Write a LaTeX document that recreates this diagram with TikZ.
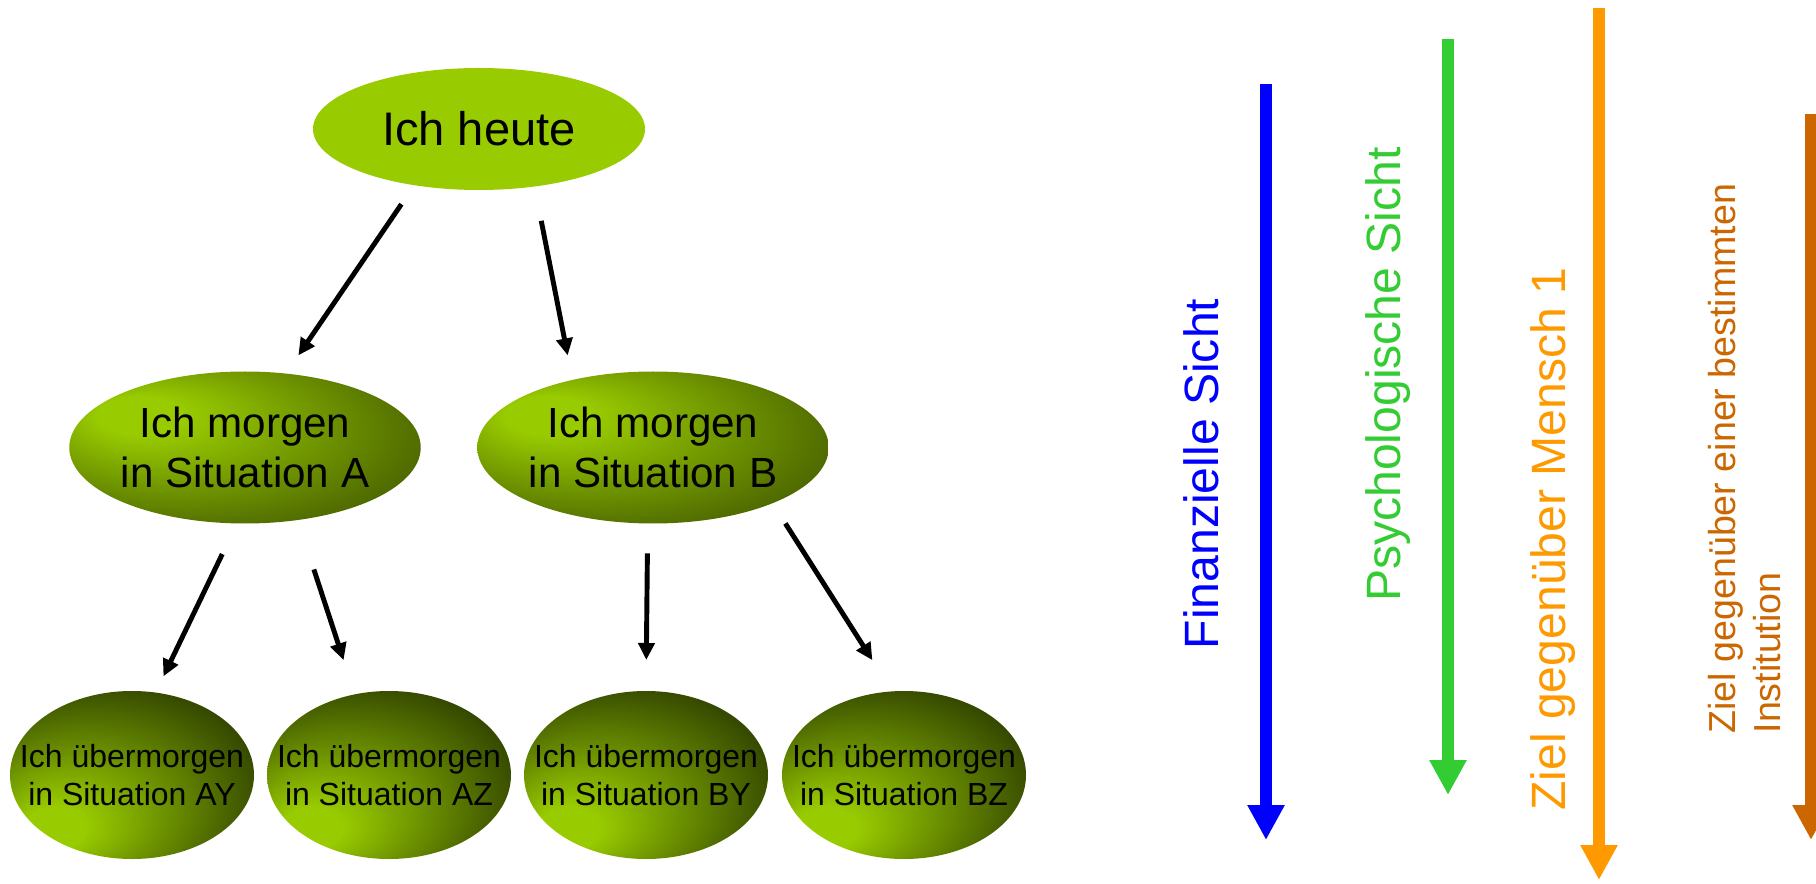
\documentclass[tikz,border=0pt]{standalone}
\usepackage{fontspec}
\setmainfont{Liberation Sans}
\usetikzlibrary{shapes.geometric,arrows.meta}

\definecolor{lightgreen}{HTML}{99CC00}
\definecolor{morgendark}{HTML}{4A6300}
\definecolor{uebardark}{HTML}{243200}
\definecolor{finblue}{HTML}{0000FF}
\definecolor{psygreen}{HTML}{33CC33}
\definecolor{zielorange}{HTML}{FF9900}
\definecolor{instbrown}{HTML}{CC6600}

\pgfdeclareradialshading{morgenshading}{\pgfpoint{-17bp}{12bp}}{color(0bp)=(lightgreen); color(6bp)=(lightgreen); color(34bp)=(morgendark); color(50bp)=(morgendark)}
\pgfdeclareradialshading{uebershading}{\pgfpoint{-18bp}{-18bp}}{color(0bp)=(lightgreen); color(6bp)=(lightgreen); color(38bp)=(uebardark); color(50bp)=(uebardark)}

\tikzset{
  blob/.style={ellipse, inner sep=0pt, outer sep=0pt},
  heute/.style={blob, fill=lightgreen, minimum width=3.32cm, minimum height=1.22cm,
    font=\fontsize{13.4}{16}\selectfont},
  morgen/.style={blob, shading=morgenshading, minimum width=3.48cm, minimum height=1.52cm,
    align=center, font=\fontsize{12}{14.4}\selectfont},
  uebermorgen/.style={blob, shading=uebershading, minimum width=2.44cm, minimum height=1.68cm},
  uebertext/.style={align=center, inner sep=0pt, font=\fontsize{9.1}{10.9}\selectfont},
  pfeil/.style={line width=1.4pt, -{Triangle[length=0.17cm,width=0.16cm]}},
  sicht/.style={line width=0.12cm, -{Triangle[length=0.35cm,width=0.35cm]}},
  sichttext/.style={rotate=90, inner sep=0pt, font=\fontsize{13.7}{16}\selectfont},
}

\begin{document}
\begin{tikzpicture}
  \useasboundingbox (0,0) rectangle (18.16,8.83);

  \node[heute] (heute) at (4.79,7.54) {Ich heute};
  \node[morgen] (A) at (2.45,4.355) {Ich morgen\\in Situation A};
  \node[morgen] (B) at (6.53,4.355) {Ich morgen\\in Situation B};
  \node[uebermorgen, label={[uebertext]center:Ich übermorgen\\in Situation AY}] (AY) at (1.32,1.08) {};
  \node[uebermorgen, label={[uebertext]center:Ich übermorgen\\in Situation AZ}] (AZ) at (3.89,1.08) {};
  \node[uebermorgen, label={[uebertext]center:Ich übermorgen\\in Situation BY}] (BY) at (6.46,1.08) {};
  \node[uebermorgen, label={[uebertext]center:Ich übermorgen\\in Situation BZ}] (BZ) at (9.04,1.08) {};

  \begin{scope}[pfeil]
    \draw[shorten <=2.3mm, shorten >=2.2mm] (heute.221) -- (A.61);
    \draw[shorten <=3.5mm, shorten >=2.5mm] (heute.314) -- (B.140);
    \draw[shorten <=3.4mm, shorten >=1.8mm] (A.264) -- (AY.74);
    \draw[shorten <=5.2mm, shorten >=3.6mm] (A.306) -- (AZ.113);
    \draw[shorten <=3mm, shorten >=3.1mm] (B.266) -- (BY.north);
    \draw[shorten <=2.4mm, shorten >=3.7mm] (B.335) -- (BZ.98);
  \end{scope}

  % Sichtweisen
  \node[sichttext, text=finblue] (fin) at (12.01,4.09) {Finanzielle Sicht};
  \node[sichttext, text=psygreen] (psy) at (13.885,5.085) {Psychologische Sicht};
  \node[sichttext, text=zielorange] (mensch) at (15.535,3.44) {Ziel gegenüber Mensch 1};
  \node[sichttext, text=instbrown, align=left, font=\fontsize{10.7}{12.8}\selectfont] (inst)
    at (17.45,4.245) {Ziel gegenüber einer bestimmten\\Institution};

  \coordinate (fin top) at (12.66,7.99);
  \coordinate (fin end) at (12.66,0.43);
  \coordinate (psy top) at (14.48,8.44);
  \coordinate (psy end) at (14.48,0.88);
  \coordinate (mensch top) at (15.99,8.75);
  \coordinate (mensch end) at (15.99,0.03);
  \coordinate (inst top) at (18.11,7.69);
  \coordinate (inst end) at (18.11,0.43);
  \draw[sicht, finblue] (fin top) -- (fin end);
  \draw[sicht, psygreen] (psy top) -- (psy end);
  \draw[sicht, zielorange] (mensch top) -- (mensch end);
  \draw[sicht, instbrown] (inst top) -- (inst end);
\end{tikzpicture}
\end{document}
